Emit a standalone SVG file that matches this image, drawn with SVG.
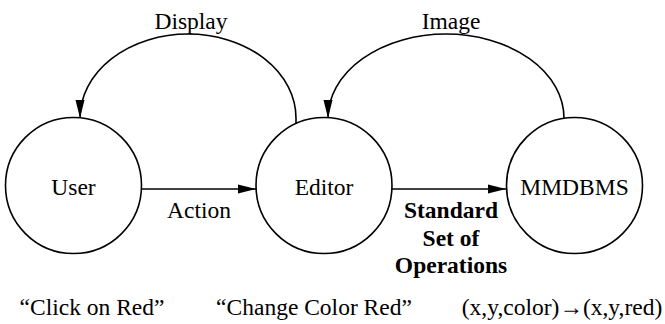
<svg xmlns="http://www.w3.org/2000/svg" width="665" height="324" viewBox="0 0 665 324">
<style>
.node{fill:#fff;stroke:#000;stroke-width:1.6}
.edge{fill:none;stroke:#000;stroke-width:1.6}
.t{font-family:"Times New Roman","Liberation Serif","DejaVu Serif",serif;font-size:23.5px;fill:#000}
.c{text-anchor:middle}
.b{font-weight:bold}
</style>
<defs>
<marker id="ah" markerUnits="userSpaceOnUse" markerWidth="18" markerHeight="10" refX="18" refY="5" orient="auto" viewBox="0 0 18 10">
<path d="M0,0.5 L18,5 L0,9.5 z" fill="#000"/>
</marker>
</defs>
<g id="connectors">
<path class="edge" d="M296,124 L296,118 A108,84 0 0 0 80,118" marker-end="url(#ah)"/>
<path class="edge" d="M564,119 L564,118 A118,84 0 0 0 328,118" marker-end="url(#ah)"/>
<path class="edge" d="M142,189 L256,189" marker-end="url(#ah)"/>
<path class="edge" d="M392,189 L506,189" marker-end="url(#ah)"/>
<text class="t c" x="191" y="29">Display</text>
<text class="t c" x="451" y="29">Image</text>
<text class="t c" x="199" y="218">Action</text>
<text class="t c b" x="451" y="218">Standard</text>
<text class="t c b" x="451" y="245.5">Set of</text>
<text class="t c b" x="451" y="273">Operations</text>
</g>
<g id="user">
<circle class="node" cx="73.5" cy="185.5" r="68"/>
<text class="t c" x="73.5" y="195">User</text>
</g>
<g id="editor">
<circle class="node" cx="324" cy="185.5" r="68"/>
<text class="t c" x="324" y="195">Editor</text>
</g>
<g id="mmdbms">
<circle class="node" cx="574.5" cy="185.5" r="68"/>
<text class="t c" x="574.5" y="195">MMDBMS</text>
</g>
<g id="examples">
<text class="t c" x="92" y="315">“Click on Red”</text>
<text class="t c" x="314" y="315">“Change Color Red”</text>
<text class="t c" x="562" y="315">(x,y,color)→(x,y,red)</text>
</g>
</svg>
